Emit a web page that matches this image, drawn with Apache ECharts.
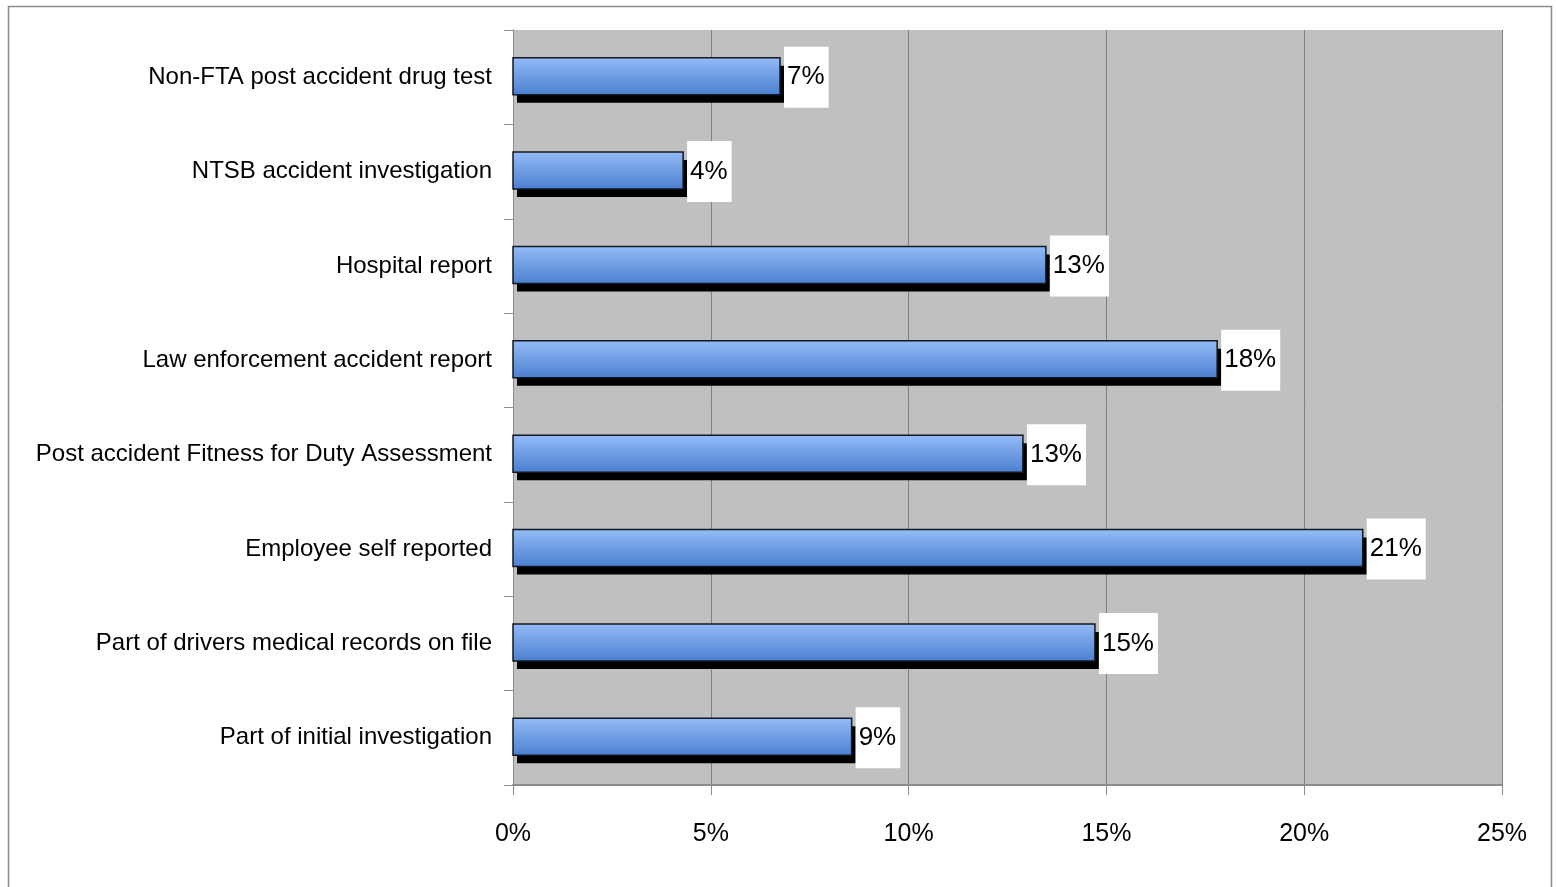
<!DOCTYPE html>
<html><head><meta charset="utf-8">
<script src="https://cdn.jsdelivr.net/npm/echarts@6/dist/echarts.min.js"></script>
<style>html,body{margin:0;padding:0;background:#fff}#c{width:1556px;height:887px}</style>
</head><body><div id="c"></div>
<script>
var categories = ["Part of initial investigation","Part of drivers medical records on file","Employee self reported","Post accident Fitness for Duty Assessment","Law enforcement accident report","Hospital report","NTSB accident investigation","Non-FTA post accident drug test"];
var values = [8.56, 14.71, 21.48, 12.89, 17.80, 13.47, 4.30, 6.75];
var xTicks = [0, 5, 10, 15, 20, 25];
var FONT = '"Liberation Sans","Arial",sans-serif';
var chart = echarts.init(document.getElementById('c'));
var barGrad = new echarts.graphic.LinearGradient(0,0,0,1,[{offset:0,color:'#95bcf7'},{offset:1,color:'#4a7fd0'}]);
chart.setOption({
  animation:false,
  graphic:[{type:'rect',shape:{x:8.5,y:6.5,width:1543,height:890},style:{fill:null,stroke:'#8c8c8c',lineWidth:1.5},z:-10}],
  grid:{left:513,top:30,right:54,bottom:102,show:true,backgroundColor:'#c0c0c0',borderWidth:0,outerBoundsMode:'none',containLabel:false},
  xAxis:{type:'value',min:xTicks[0],max:xTicks[xTicks.length-1],interval:5,
    axisLine:{show:true,lineStyle:{color:'#8c8c8c',width:2}},
    axisTick:{show:true,length:10,lineStyle:{color:'#8c8c8c',width:1}},
    splitLine:{show:true,lineStyle:{color:'#808080',width:1}},
    axisLabel:{formatter:'{value}%',color:'#000',fontFamily:FONT,fontSize:25,margin:37}},
  yAxis:{type:'category',data:categories,
    axisLine:{show:true,lineStyle:{color:'#8c8c8c',width:1}},
    axisTick:{show:true,length:9,lineStyle:{color:'#8c8c8c'}},
    axisLabel:{color:'#000',fontFamily:FONT,fontSize:24,margin:21}},
  series:[{type:'custom',
    data:values.map(function(v,i){return [v,i];}),
    encode:{x:0,y:1},
    renderItem:function(params, api){
      var v = api.value(0), idx = api.value(1);
      var p0 = api.coord([0, idx]), p1 = api.coord([v, idx]);
      var h = 37, y = p0[1]-h/2-1, w = p1[0]-p0[0];
      return {type:'group',children:[
        {type:'rect',shape:{x:p0[0]+4,y:y+8,width:w,height:h},style:{fill:'#000'}},
        {type:'rect',shape:{x:p0[0],y:y,width:w,height:h},style:{fill:barGrad,stroke:'#101820',lineWidth:1.5}},
        {type:'text',x:p1[0]+4,y:p0[1],style:{text:Math.round(v)+'%',fill:'#000',font:'26px '+FONT,
          align:'left',verticalAlign:'middle',backgroundColor:'#fff',padding:[17,4,18,3]}}
      ]};
    }}]
});
</script></body></html>
